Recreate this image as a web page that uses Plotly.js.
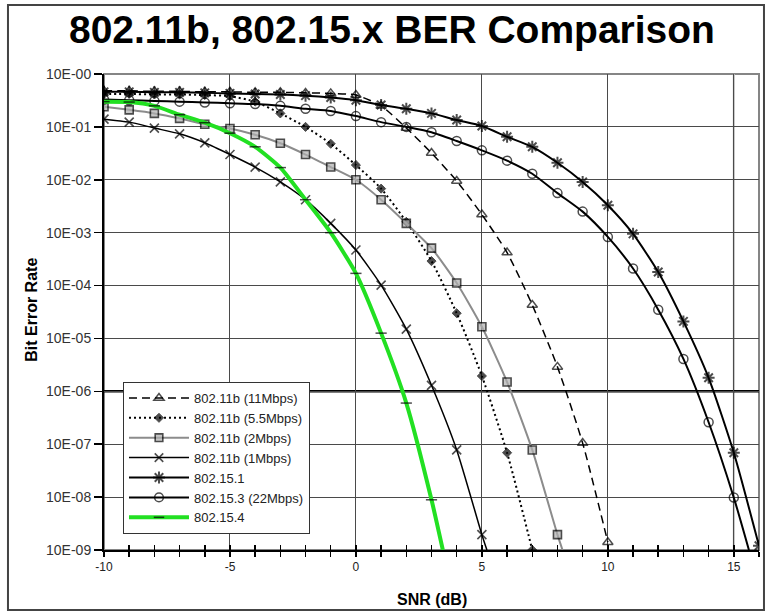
<!DOCTYPE html>
<html>
<head>
<meta charset="utf-8">
<script src="https://cdn.plot.ly/plotly-3.0.1.min.js"></script>
<style>
  html, body { margin: 0; padding: 0; background: #fff; }
  #chart { width: 767px; height: 614px; }
</style>
</head>
<body>
<div id="chart"></div>
<script>
// ---- data ----
const seriesNames = [
  "802.11b (11Mbps)", "802.11b (5.5Mbps)", "802.11b (2Mbps)", "802.11b (1Mbps)",
  "802.15.1", "802.15.3 (22Mbps)", "802.15.4"
];

const snr11  = [-10,-9,-8,-7,-6,-5,-4,-3,-2,-1,0,1,2,3,4,5,6,7,8,9,10];
const ber11  = [0.48,0.48,0.47,0.47,0.46,0.46,0.45,0.45,0.44,0.43,0.40,0.25,0.095,3.2e-2,9.5e-3,2.2e-3,4.2e-4,4.3e-5,2.9e-6,1.05e-7,1.4e-9];

const snr55  = [-10,-9,-8,-7,-6,-5,-4,-3,-2,-1,0,1,2,3,4,5,6,7];
const ber55  = [0.42,0.42,0.41,0.41,0.40,0.38,0.30,0.18,0.10,0.048,1.9e-2,6.8e-3,1.6e-3,2.9e-4,3.0e-5,1.95e-6,6.9e-8,1.0e-9];

const snr2   = [-10,-9,-8,-7,-6,-5,-4,-3,-2,-1,0,1,2,3,4,5,6,7,8,8.2];
const ber2   = [0.24,0.21,0.18,0.145,0.112,0.093,0.071,0.049,0.030,0.0174,0.010,4.2e-3,1.5e-3,5.1e-4,1.12e-4,1.66e-5,1.5e-6,7.8e-8,1.95e-9,1.0e-9];

const snr1   = [-10,-9,-8,-7,-6,-5,-4,-3,-2,-1,0,1,2,3,4,5,5.2];
const ber1   = [0.14,0.123,0.095,0.074,0.050,0.030,0.0174,9.1e-3,4.2e-3,1.5e-3,4.7e-4,1.02e-4,1.5e-5,1.3e-6,7.8e-8,1.95e-9,1.0e-9];

const snr151 = [-10,-9,-8,-7,-6,-5,-4,-3,-2,-1,0,1,2,3,4,5,6,7,8,9,10,11,12,13,14,15,16];
const ber151 = [0.46,0.46,0.45,0.45,0.44,0.43,0.42,0.41,0.39,0.36,0.32,0.26,0.22,0.18,0.135,0.104,0.065,0.042,0.021,9.1e-3,3.3e-3,9.5e-4,1.8e-4,2.1e-5,1.8e-6,6.9e-8,1.2e-9];

const snr153 = [-10,-9,-8,-7,-6,-5,-4,-3,-2,-1,0,1,2,3,4,5,6,7,8,9,10,11,12,13,14,15,15.6];
const ber153 = [0.33,0.32,0.31,0.30,0.29,0.28,0.27,0.25,0.22,0.20,0.16,0.123,0.10,0.079,0.054,0.036,0.023,0.013,5.6e-3,2.5e-3,8.3e-4,2.1e-4,3.5e-5,4.1e-6,2.6e-7,9.8e-9,1.0e-9];

const snr154 = [-10,-9,-8,-7,-6,-5,-4,-3,-2,-1,0,1,2,3,3.45];
const ber154 = [0.30,0.295,0.25,0.17,0.12,0.076,0.042,0.017,4.2e-3,1.0e-3,1.7e-4,1.26e-5,6.0e-7,8.9e-9,1.0e-9];

const xTickVals = [-10,-5,0,5,10,15];
const xTickText = ["-10","-5","0","5","10","15"];
const yTickVals = [1,1e-1,1e-2,1e-3,1e-4,1e-5,1e-6,1e-7,1e-8,1e-9];
const yTickText = ["10E-00","10E-01","10E-02","10E-03","10E-04","10E-05","10E-06","10E-07","10E-08","10E-09"];

// ---- styling helpers ----
const FONT = "Liberation Sans, Arial, sans-serif";
const sizesFor = (xs, s) => xs.map(v => Number.isInteger(v) ? s : 0);
const SM = 0.6;

const traces = [
  { name: seriesNames[0], x: snr11, y: ber11, mode: "lines+markers",
    line: { color: "#000", width: 1.5, dash: "8px,5px", shape: "spline", smoothing: SM },
    marker: { symbol: "triangle-up-open", size: sizesFor(snr11, 9), color: "#000", line: { width: 1.5, color: "#000" } } },
  { name: seriesNames[1], x: snr55, y: ber55, mode: "lines+markers",
    line: { color: "#000", width: 2, dash: "2px,3px", shape: "spline", smoothing: SM },
    marker: { symbol: "diamond", size: sizesFor(snr55, 7), color: "#000", line: { width: 1, color: "#000" } } },
  { name: seriesNames[2], x: snr2, y: ber2, mode: "lines+markers",
    line: { color: "#8c8c8c", width: 2, shape: "spline", smoothing: SM },
    marker: { symbol: "square", size: sizesFor(snr2, 8), color: "#b0b0b0", line: { width: 1.6, color: "#000" } } },
  { name: seriesNames[3], x: snr1, y: ber1, mode: "lines+markers",
    line: { color: "#000", width: 1.5, shape: "spline", smoothing: SM },
    marker: { symbol: "x-thin-open", size: sizesFor(snr1, 9), color: "#000", line: { width: 1.6, color: "#000" } } },
  { name: seriesNames[4], x: snr151, y: ber151, mode: "lines+markers",
    line: { color: "#000", width: 2, shape: "spline", smoothing: SM },
    marker: { symbol: "asterisk-open", size: sizesFor(snr151, 10), color: "#000", line: { width: 2, color: "#000" } } },
  { name: seriesNames[5], x: snr153, y: ber153, mode: "lines+markers",
    line: { color: "#000", width: 2, shape: "spline", smoothing: SM },
    marker: { symbol: "circle-open", size: sizesFor(snr153, 9), color: "#000", line: { width: 1.5, color: "#000" } } },
  { name: seriesNames[6], x: snr154, y: ber154, mode: "lines+markers",
    line: { color: "#22e022", width: 4, shape: "spline", smoothing: SM },
    marker: { symbol: "line-ew-open", size: sizesFor(snr154, 8), color: "#000", line: { width: 1.5, color: "#000" } } },
  // helper trace so the overlaid tick axis is drawn
  { x: [], y: [], xaxis: "x2", yaxis: "y", showlegend: false, hoverinfo: "skip", mode: "markers" }
];

const layout = {
  width: 767, height: 614,
  margin: { l: 104, r: 8, t: 74, b: 64 },
  paper_bgcolor: "#fff", plot_bgcolor: "#fff",
  font: { family: FONT, color: "#222" },
  title: { text: "<b>802.11b, 802.15.x BER Comparison</b>", font: { family: FONT, size: 39, color: "#000" },
           x: 0.511, xref: "container", xanchor: "center", y: 0.953, yref: "container", yanchor: "middle" },
  xaxis: {
    range: [-10, 16], tickvals: xTickVals, ticktext: xTickText,
    showgrid: true, gridcolor: "#4a4a4a", gridwidth: 1, zeroline: false,
    showline: true, linecolor: "#000", linewidth: 2,
    ticks: "outside", ticklen: 5, tickwidth: 1.5, tickcolor: "#000",
    minor: { dtick: 1, ticks: "outside", ticklen: 5, tickwidth: 1.5, tickcolor: "#000", showgrid: false },
    tickfont: { family: FONT, size: 12, color: "#222" }
  },
  xaxis2: {
    overlaying: "x", matches: "x", range: [-10, 16], dtick: 1, tick0: 0,
    showgrid: false, zeroline: false, showline: false, showticklabels: false,
    ticks: "inside", ticklen: 5, tickwidth: 1.5, tickcolor: "#000", side: "bottom", anchor: "y"
  },
  yaxis: {
    type: "log", range: [-9, 0], tickvals: yTickVals, ticktext: yTickText,
    showgrid: true, gridcolor: "#4a4a4a", gridwidth: 1, zeroline: false,
    showline: true, linecolor: "#000", linewidth: 2,
    ticks: "outside", ticklen: 8, tickwidth: 1.5, tickcolor: "#000",
    tickfont: { family: FONT, size: 14, color: "#333" }
  },
  showlegend: true,
  legend: {
    x: 0.029, y: 0.353, xanchor: "left", yanchor: "top",
    bgcolor: "#fff", bordercolor: "#333", borderwidth: 1,
    font: { family: FONT, size: 13, color: "#222" },
    itemwidth: 60, tracegroupgap: 0
  },
  annotations: [
    { text: "<b>Bit Error Rate</b>", xref: "paper", yref: "paper", x: -0.112, y: 0.504,
      textangle: -90, showarrow: false, xanchor: "center", yanchor: "middle",
      font: { family: FONT, size: 16, color: "#000" } },
    { text: "<b>SNR (dB)</b>", xref: "paper", yref: "paper", x: 0.5, y: -0.103,
      showarrow: false, xanchor: "center", yanchor: "middle",
      font: { family: FONT, size: 16, color: "#000" } }
  ],
  shapes: [
    { type: "rect", xref: "paper", yref: "paper", x0: 0, x1: 1, y0: 0, y1: 1,
      line: { color: "#858585", width: 2 }, layer: "between" },
    { type: "line", xref: "x", yref: "paper", x0: 15, x1: 15, y0: 0, y1: 1,
      line: { color: "#bdbdbd", width: 2 }, layer: "between" },
    { type: "line", xref: "paper", yref: "y", x0: 0, x1: 1, y0: 1e-6, y1: 1e-6,
      line: { color: "#000", width: 2.5 }, layer: "between" },
    { type: "rect", xref: "paper", yref: "paper", x0: -0.1466, x1: 1.0076, y0: -0.126, y1: 1.145,
      line: { color: "#444", width: 2 }, layer: "above" }
  ]
};

Plotly.newPlot("chart", traces, layout, { displayModeBar: false, staticPlot: true });
</script>
</body>
</html>
